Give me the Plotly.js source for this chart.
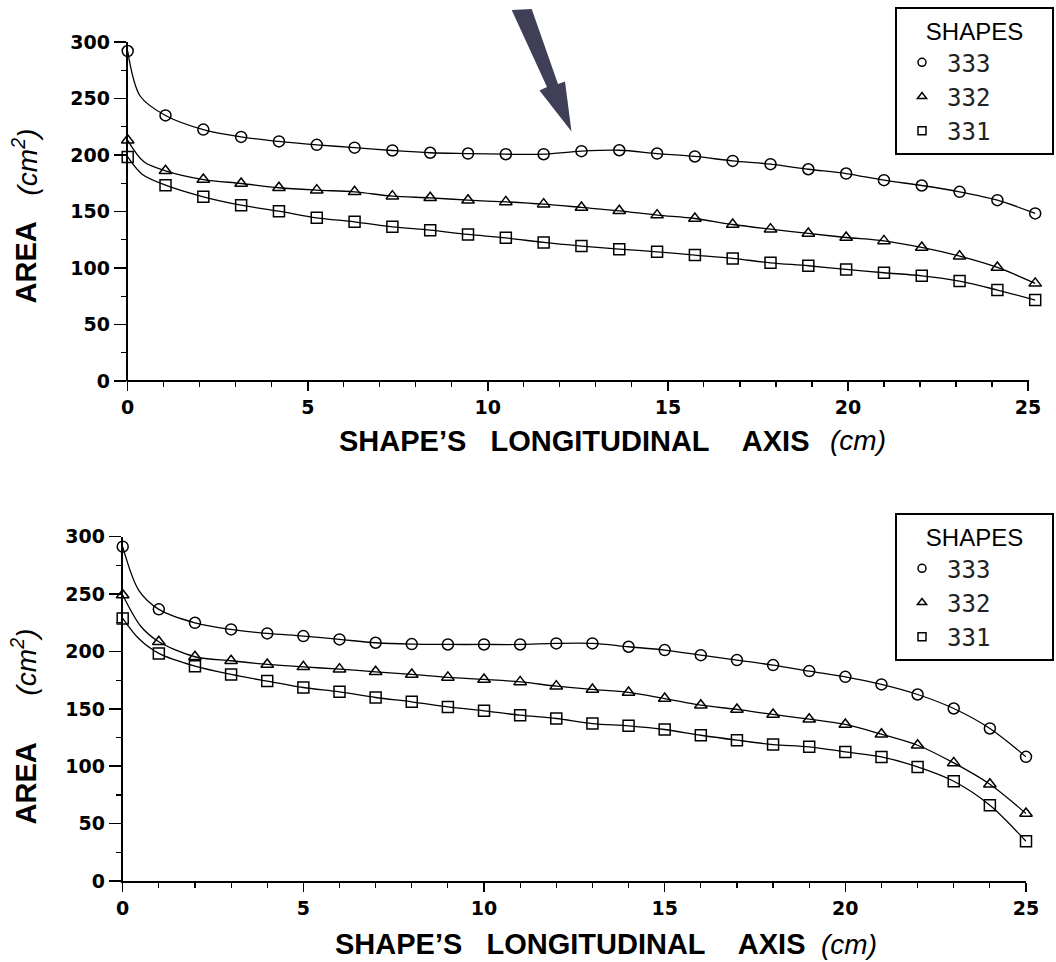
<!DOCTYPE html>
<html><head><meta charset="utf-8">
<script src="https://cdn.plot.ly/plotly-3.0.1.min.js"></script>
<style>html,body{margin:0;padding:0;background:#fff;}</style>
</head><body>
<div id="chart" style="width:1056px;height:962px;"></div>
<script>
// ---------- DATA ----------
const shapeNames = ['333', '332', '331'];
const xTicks = [0, 5, 10, 15, 20, 25];
const yTicks = [0, 50, 100, 150, 200, 250, 300];

// Top panel (positions along the axis, cm)
const topX = [0, 1.05, 2.1, 3.15, 4.2, 5.25, 6.3, 7.35, 8.4, 9.45, 10.5, 11.55, 12.6, 13.65, 14.7, 15.75, 16.8, 17.85, 18.9, 19.95, 21.0, 22.05, 23.1, 24.15, 25.2];
const top333 = [292, 235, 222.5, 216, 212, 209, 206.5, 204, 202, 201.3, 200.7, 200.7, 203.4, 204.2, 201.3, 198.7, 194.8, 191.9, 187.4, 183.6, 177.7, 173, 167.4, 160, 148.3];
const top332 = [213, 186, 178.3, 174.8, 171, 168.9, 167.4, 163.6, 162.1, 160, 158.5, 156.5, 153.6, 150.6, 146.8, 143.8, 138.5, 134.4, 130.6, 127, 124, 118.2, 110.5, 100.5, 86.4];
const top331 = [198.3, 173.3, 163, 155.6, 150.3, 144.4, 140.9, 136.4, 133.5, 129.7, 126.7, 122.6, 119.4, 116.7, 114.3, 111.4, 108.5, 104.6, 102, 98.7, 95.8, 93.1, 88.4, 80.5, 71.6];
const topKnee333 = [0.35, 252];
const topKnee332 = [0.45, 194];
const topKnee331 = [0.4, 183];

// Bottom panel
const botX = [0, 1, 2, 3, 4, 5, 6, 7, 8, 9, 10, 11, 12, 13, 14, 15, 16, 17, 18, 19, 20, 21, 22, 23, 24, 25];
const bot333 = [291.3, 236.7, 225, 219.2, 215.7, 213.4, 210.5, 207.6, 206.4, 206.1, 206.1, 206.1, 207, 207, 204.1, 201.2, 196.8, 192.5, 188.1, 182.9, 177.9, 171.3, 162.5, 150.3, 132.9, 108.2];
const bot332 = [249.2, 208.5, 195.4, 191.9, 188.7, 186.6, 184.6, 182.3, 180, 177.4, 175.6, 173.5, 169.8, 166.9, 164.3, 159, 153.2, 149.5, 145.1, 141, 136.4, 127.9, 118.3, 102.9, 84.3, 58.8];
const bot331 = [228.8, 198.3, 187.2, 180, 174.2, 168.6, 164.8, 159.9, 156.1, 151.7, 148.3, 144.5, 141.6, 137.2, 135.2, 132, 127, 122.7, 118.9, 116.9, 112.5, 108.1, 99.4, 86.9, 66, 34.6];
const botKnee333 = [0.45, 253];
const botKnee332 = [0.5, 222];
const botKnee331 = [0.45, 211];

// Axis title texts
const xTitleMain = 'SHAPE\u2019S\u00A0\u00A0\u00A0LONGITUDINAL\u00A0\u00A0\u00A0\u00A0AXIS';
const xTitleUnit = '(cm)';
const yTitleMain = 'AREA';
const yTitleUnit = '(cm<sup>2</sup>)';

// ---------- STYLE ----------
const symbols = ['circle-open', 'triangle-up-open', 'square-open'];
const NB = '\u00A0';
const rep = (n) => NB.repeat(n);

function withKnee(xs, ys, knee) {
  return {
    x: [xs[0], knee[0]].concat(xs.slice(1)),
    y: [ys[0], knee[1]].concat(ys.slice(1))
  };
}

const traces = [];
function addPanel(xs, series, knees, xa, ya, legendId) {
  series.forEach((ys, i) => {
    const c = withKnee(xs, ys, knees[i]);
    traces.push({
      type: 'scatter', mode: 'lines', x: c.x, y: c.y, xaxis: xa, yaxis: ya,
      line: {color: '#000', width: 1.3, shape: 'spline', smoothing: 0.9},
      showlegend: false, hoverinfo: 'skip', cliponaxis: false,
      legendgroup: legendId + shapeNames[i], legend: legendId
    });
    traces.push({
      type: 'scatter', mode: 'markers', x: xs, y: ys, xaxis: xa, yaxis: ya,
      name: shapeNames[i],
      marker: {symbol: symbols[i], size: 11, color: '#000', line: {color: '#000', width: 1.5}},
      showlegend: false, cliponaxis: false,
      legendgroup: legendId + shapeNames[i], legend: legendId
    });
    traces.push({
      type: 'scatter', mode: 'markers', x: [null], y: [null], xaxis: xa, yaxis: ya,
      name: shapeNames[i],
      marker: {symbol: symbols[i], size: 8, color: '#000', line: {color: '#000', width: 1.5}},
      showlegend: true, legendgroup: legendId + shapeNames[i], legend: legendId,
      hoverinfo: 'skip'
    });
  });
}
addPanel(topX, [top333, top332, top331], [topKnee333, topKnee332, topKnee331], 'x', 'y', 'legend');
addPanel(botX, [bot333, bot332, bot331], [botKnee333, botKnee332, botKnee331], 'x2', 'y2', 'legend2');

// ---------- LAYOUT ----------
const W = 1056, H = 962;
const M = {l: 118, r: 12, t: 42, b: 81};
const PW = W - M.l - M.r, PH = H - M.t - M.b;
const px = (x) => (x - M.l) / PW;          // pixel -> paper x
const py = (y) => (H - M.b - y) / PH;      // pixel -> paper y

// top panel: x=0 at 127.7px, x=25 at 1028px (range extended a little so the last markers at 25.2 stay visible)
const topX0 = 127.7, topX25 = 1028, topXmax = 25.3;
const topRight = topX0 + (topX25 - topX0) / 25 * topXmax;

const tickFont = {family: 'DejaVu Sans', size: 19, color: '#000', weight: 'bold'};

function xAxis(domain, anchor, range, showline) {
  return {
    domain: domain, anchor: anchor, range: range,
    tickmode: 'array', tickvals: xTicks, ticktext: xTicks.map(String),
    showline: showline, linecolor: '#000', linewidth: 2,
    ticks: 'outside', ticklen: 9, tickwidth: 1.5, tickcolor: '#000',
    minor: {dtick: 1, tick0: 0, ticks: 'outside', ticklen: 5, tickwidth: 1.2, tickcolor: '#000', showgrid: false},
    showgrid: false, zeroline: false, tickfont: tickFont,
    automargin: false, fixedrange: true
  };
}
function yAxis(domain, anchor) {
  return {
    domain: domain, anchor: anchor, range: [0, 300],
    tickmode: 'array', tickvals: yTicks, ticktext: yTicks.map(String),
    showline: true, linecolor: '#000', linewidth: 2,
    ticks: 'outside', ticklen: 12, tickwidth: 1.5, tickcolor: '#000',
    minor: {dtick: 25, tick0: 0, ticks: 'outside', ticklen: 5, tickwidth: 1.2, tickcolor: '#000', showgrid: false},
    showgrid: false, zeroline: false, tickfont: tickFont,
    automargin: false, fixedrange: true
  };
}

const boldTitleFont = {family: 'Liberation Sans, Arial', size: 29, color: '#000', weight: 'bold'};
const unitFont = {family: 'Liberation Sans, Arial', size: 28, color: '#000', style: 'italic'};
function ann(text, cx, cy, angle, font) {
  return {text: text, xref: 'paper', yref: 'paper', x: px(cx), y: py(cy), xanchor: 'center', yanchor: 'middle',
    showarrow: false, textangle: angle, font: font};
}

const arrowPx = [[511.7, 10], [531.7, 9], [558, 84], [565, 81.5], [571.5, 131.5], [539.5, 90.5], [547, 87]];
const arrowPath = arrowPx.map((p, i) => (i ? 'L' : 'M') + px(p[0]).toFixed(5) + ',' + py(p[1]).toFixed(5)).join(' ') + ' Z';

function legendCfg(topPx) {
  return {
    x: px(1054), xanchor: 'right', y: py(topPx), yanchor: 'top',
    bgcolor: '#fff', bordercolor: '#000', borderwidth: 2,
    tracegroupgap: 0, itemwidth: 40,
    font: {family: 'DejaVu Sans Mono', size: 24, color: '#222'},
    title: {text: rep(4) + 'SHAPES' + rep(4), side: 'top center', font: {family: 'Liberation Sans, Arial', size: 24, color: '#000'}}
  };
}

const layout = {
  width: W, height: H,
  margin: {l: M.l, r: M.r, t: M.t, b: M.b, autoexpand: false},
  paper_bgcolor: '#fff', plot_bgcolor: 'rgba(0,0,0,0)',
  showlegend: true,
  xaxis: xAxis([px(topX0), px(topRight)], 'y', [0, topXmax], false),
  yaxis: yAxis([py(381), 1], 'x'),
  xaxis2: xAxis([px(122.7), px(1026)], 'y2', [0, 25], true),
  yaxis2: yAxis([0, py(536.7)], 'x2'),
  legend: legendCfg(7),
  legend2: legendCfg(513),
  annotations: [
    ann(xTitleMain, 574.5, 441, 0, boldTitleFont),
    ann(xTitleUnit, 857.5, 441, 0, unitFont),
    ann(xTitleMain, 570, 944, 0, boldTitleFont),
    ann(xTitleUnit, 849, 944, 0, unitFont),
    ann(yTitleMain, 25, 262.5, -90, boldTitleFont),
    ann(yTitleUnit, 25, 162.5, -90, unitFont),
    ann(yTitleMain, 25, 783.5, -90, boldTitleFont),
    ann(yTitleUnit, 25, 662.5, -90, unitFont)
  ],
  shapes: [
    // x axis line of the top panel, from 0 to 25
    {type: 'line', xref: 'paper', yref: 'paper', x0: px(topX0 - 1), x1: px(topX25 + 1), y0: py(381), y1: py(381), line: {color: '#000', width: 2}, layer: 'above'},
    {type: 'path', xref: 'paper', yref: 'paper', path: arrowPath, fillcolor: '#403f58', line: {width: 0}, layer: 'above'}
  ]
};

Plotly.newPlot('chart', traces, layout, {displayModeBar: false, staticPlot: true});
</script>
</body></html>
